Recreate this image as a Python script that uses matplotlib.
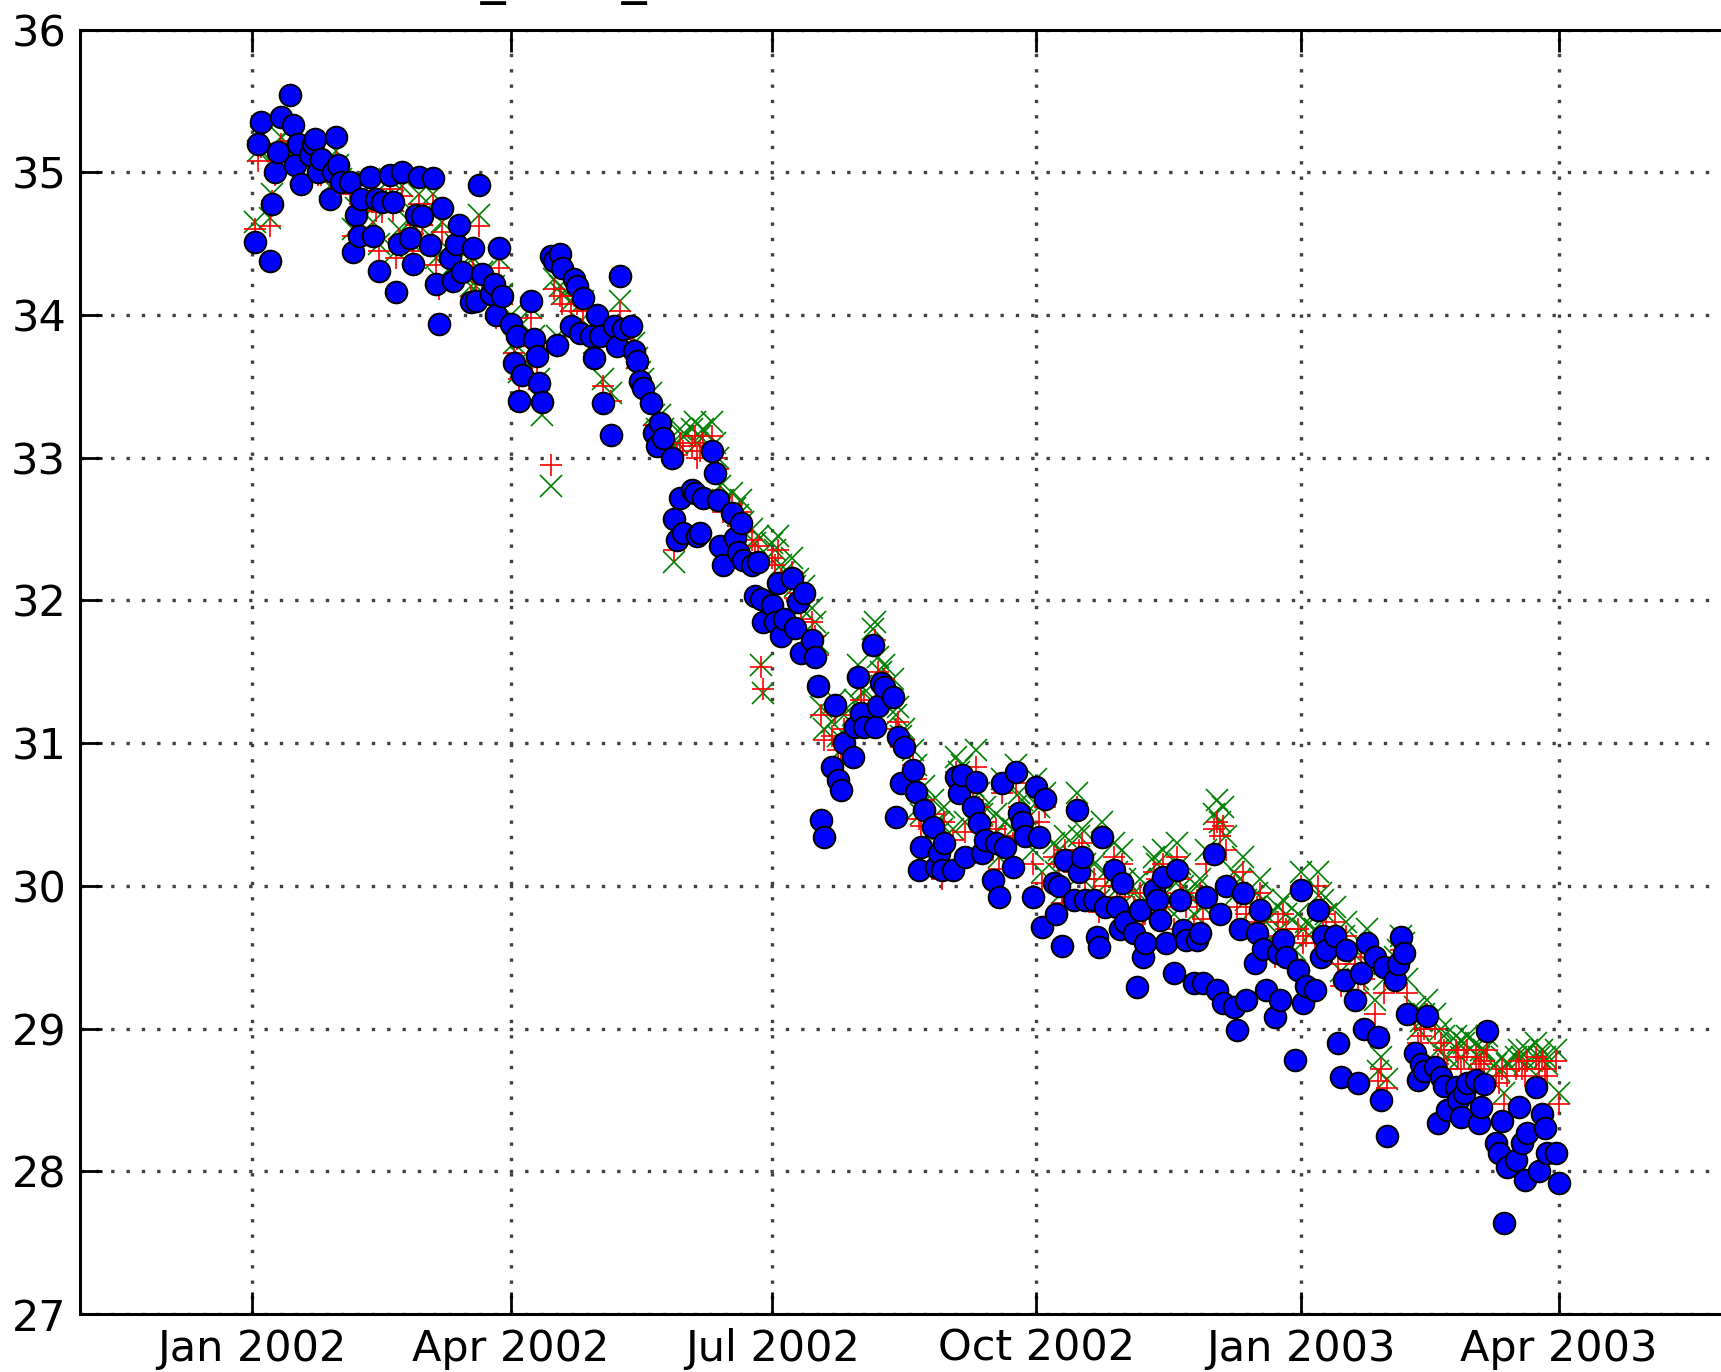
"""Daily observed series with two model estimates, Jan 2002 - Apr 2003."""

from __future__ import annotations

import matplotlib

matplotlib.use("Agg")
import matplotlib.dates as mdates
import matplotlib.pyplot as plt
import pandas as pd
from matplotlib.axes import Axes
from matplotlib.figure import Figure

DPI: int = 200
FIG_W_PX: int = 1721
FIG_H_PX: int = 1372
FONT_SIZE: float = 15.5

START_DATE: str = "2002-01-02"  # first business day, one row per week below
X_LIMITS: tuple[str, str] = ("2001-11-02", "2003-06-10")
Y_LIMITS: tuple[float, float] = (27.0, 36.0)
Y_TICKS: list[int] = list(range(27, 37))
TITLE_TEXT: str = "EWA_EWC_"

# Observed values (blue circles), business days, rows = calendar weeks.
OBSERVED: list[float] = [
    34.51, 35.20, 35.35,
    34.38, 34.78, 35.00, 35.14, 35.39,
    35.54, 35.33, 35.05, 35.20, 34.92,
    35.12, 35.20, 35.23, 35.00, 35.09,
    34.81, 35.00, 35.25, 35.05, 34.93,
    34.93, 34.44, 34.70, 34.55, 34.81,
    34.97, 34.55, 34.81, 34.31, 34.79,
    34.98, 34.79, 34.16, 34.50, 35.00,
    34.54, 34.36, 34.70, 34.97, 34.69,
    34.49, 34.96, 34.22, 33.94, 34.75,
    34.40, 34.24, 34.50, 34.63, 34.30,
    34.09, 34.47, 34.10, 34.91, 34.29,
    34.15, 34.22, 34.00, 34.47, 34.13,
    33.94, 33.66, 33.85, 33.40, 33.58,
    34.10, 33.83, 33.71, 33.52, 33.39,
    34.41, 34.38, 33.79, 34.43, 34.33,
    33.92, 34.25, 34.20, 33.87, 34.12,
    33.85, 33.70, 34.00, 33.85, 33.38,
    33.16, 33.92, 33.78, 34.27, 33.90,
    33.92, 33.75, 33.68, 33.54, 33.49,
    33.38, 33.17, 33.08, 33.24, 33.14,
    33.00, 32.57, 32.42, 32.72, 32.47,
    32.77, 32.75, 32.45, 32.47, 32.72,
    33.05, 32.89, 32.70, 32.38, 32.25,
    32.61, 32.44, 32.34, 32.54, 32.28,
    32.25, 32.03, 32.27, 32.01, 31.85,
    31.97, 31.85, 32.12, 31.75, 31.87,
    32.16, 31.81, 31.99, 31.63, 32.05,
    31.72, 31.60, 31.40, 30.46, 30.34,
    30.83, 31.27, 30.74, 30.67, 31.00,
    30.90, 31.11, 31.46, 31.21, 31.11,
    31.69, 31.11, 31.26, 31.42, 31.39,
    31.32, 30.48, 31.04, 30.72, 30.97,
    30.81, 30.66, 30.11, 30.27, 30.53,
    30.41, 30.13, 30.23, 30.11, 30.30,
    30.11, 30.76, 30.65, 30.78, 30.20,
    30.55, 30.73, 30.44, 30.23, 30.32,
    30.04, 30.30, 29.92, 30.72, 30.27,
    30.13, 30.80, 30.51, 30.45, 30.35,
    29.92, 30.69, 30.34, 29.71, 30.61,
    30.02, 29.80, 30.00, 29.58, 30.18,
    29.90, 30.53, 30.10, 30.20, 29.90,
    29.90, 29.64, 29.57, 30.34, 29.85,
    30.11, 29.85, 29.70, 30.02, 29.75,
    29.67, 29.29, 29.83, 29.50, 29.60,
    29.97, 29.90, 29.76, 30.06, 29.60,
    29.39, 30.11, 29.90, 29.69, 29.62,
    29.32, 29.62, 29.67, 29.32, 29.92,
    30.22, 29.27, 29.80, 29.18, 30.00,
    29.15, 28.99, 29.70, 29.95, 29.20,
    29.46, 29.67, 29.83, 29.56, 29.27,
    29.08, 29.53, 29.20, 29.62, 29.50,
    28.78, 29.41, 29.97, 29.18, 29.30,
    29.27, 29.83, 29.50, 29.65, 29.55,
    29.65, 28.90, 28.66, 29.34, 29.55,
    29.20, 28.62, 29.39, 29.00, 29.60,
    29.50, 28.94, 28.50, 29.43, 28.25,
    29.34, 29.45, 29.64, 29.53, 29.10,
    28.83, 28.64, 28.75, 28.70, 29.09,
    28.73, 28.34, 28.66, 28.60, 28.43,
    28.59, 28.50, 28.38, 28.55, 28.62,
    28.64, 28.34, 28.45, 28.61, 28.98,
    28.20, 28.13, 28.35, 27.64, 28.03,
    28.08, 28.45, 28.20, 27.94, 28.27,
    28.59, 28.00, 28.40, 28.30, 28.13,
    28.13, 27.92,
]

# First estimate (green crosses).
ESTIMATE_X: list[float] = [
    34.65, 35.15, 35.25,
    34.68, 34.85, 35.05, 35.15, 35.25,
    35.30, 35.25, 35.10, 35.15, 35.00,
    35.10, 35.15, 35.18, 35.05, 35.05,
    34.90, 35.00, 35.15, 35.05, 34.95,
    34.92, 34.60, 34.75, 34.65, 34.80,
    34.90, 34.65, 34.80, 34.50, 34.80,
    34.95, 34.80, 34.45, 34.60, 34.90,
    34.65, 34.50, 34.70, 34.85, 34.70,
    34.55, 34.85, 34.40, 34.25, 34.65,
    34.45, 34.35, 34.50, 34.55, 34.35,
    34.20, 34.40, 34.20, 34.70, 34.30,
    34.20, 34.20, 34.05, 34.40, 34.15,
    34.00, 33.80, 33.90, 33.60, 33.70,
    34.05, 33.85, 33.75, 33.55, 33.30,
    32.80, 34.25, 33.85, 34.20, 34.15,
    34.10, 34.20, 34.15, 33.95, 34.10,
    33.90, 33.80, 33.95, 33.85, 33.55,
    33.45, 33.90, 33.85, 34.10, 33.90,
    33.85, 33.80, 33.70, 33.60, 33.55,
    33.45, 33.30, 33.20, 33.30, 33.20,
    33.10, 32.27, 33.10, 33.20, 33.15,
    33.20, 33.25, 33.10, 33.15, 33.20,
    33.25, 33.10, 33.00, 32.80, 32.70,
    32.75, 32.65, 32.60, 32.70, 32.55,
    32.50, 32.40, 32.45, 31.55, 31.35,
    32.40, 32.35, 32.45, 32.25, 32.20,
    32.30, 32.10, 32.15, 31.95, 32.10,
    31.95, 31.85, 31.70, 31.25, 31.10,
    31.15, 31.30, 31.05, 30.95, 31.20,
    31.20, 31.30, 31.55, 31.40, 31.35,
    31.80, 31.85, 31.60, 31.50, 31.55,
    31.45, 31.20, 31.25, 31.05, 31.10,
    30.95, 30.85, 30.55, 30.50, 30.70,
    30.60, 30.45, 30.45, 30.40, 30.55,
    30.40, 30.90, 30.80, 30.85, 30.45,
    30.70, 30.95, 30.65, 30.50, 30.55,
    30.35, 30.50, 30.20, 30.75, 30.45,
    30.40, 30.85, 30.65, 30.60, 30.50,
    30.25, 30.75, 30.55, 30.10, 30.65,
    30.30, 30.10, 30.25, 29.95, 30.35,
    30.20, 30.65, 30.35, 30.40, 30.15,
    30.15, 29.95, 29.90, 30.45, 30.10,
    30.30, 30.10, 30.00, 30.25, 30.05,
    29.95, 29.70, 30.05, 29.85, 29.90,
    30.20, 30.15, 30.05, 30.25, 29.95,
    29.80, 30.30, 30.15, 30.00, 29.95,
    29.80, 30.00, 30.05, 29.85, 30.25,
    30.50, 30.60, 30.45, 30.55, 30.35,
    30.10, 29.95, 30.05, 30.20, 29.90,
    29.85, 29.95, 30.05, 29.90, 29.75,
    29.60, 29.85, 29.70, 29.90, 29.80,
    29.55, 29.80, 30.10, 29.70, 29.75,
    29.70, 30.10, 29.95, 29.90, 29.80,
    29.85, 29.55, 29.40, 29.65, 29.75,
    29.55, 29.35, 29.60, 29.45, 29.70,
    29.20, 28.70, 28.80, 29.35, 28.65,
    29.50, 29.55, 29.65, 29.60, 29.35,
    29.15, 29.00, 29.05, 29.10, 29.20,
    29.10, 28.85, 29.00, 28.95, 28.80,
    28.95, 28.90, 28.80, 28.90, 28.95,
    28.90, 28.80, 28.85, 28.85, 28.95,
    28.75, 28.70, 28.80, 28.55, 28.75,
    28.80, 28.85, 28.80, 28.75, 28.85,
    28.90, 28.80, 28.85, 28.80, 28.75,
    28.85, 28.55,
]

# Second estimate (red pluses).
ESTIMATE_PLUS: list[float] = [
    34.60, 35.08, 35.18,
    34.62, 34.80, 34.98, 35.08, 35.20,
    35.22, 35.18, 35.02, 35.08, 34.93,
    35.03, 35.08, 35.10, 34.98, 34.98,
    34.83, 34.93, 35.07, 34.98, 34.88,
    34.85, 34.55, 34.68, 34.58, 34.73,
    34.83, 34.58, 34.73, 34.45, 34.72,
    34.88, 34.73, 34.40, 34.53, 34.83,
    34.58, 34.45, 34.63, 34.78, 34.63,
    34.48, 34.78, 34.35, 34.18, 34.58,
    34.38, 34.28, 34.43, 34.48, 34.28,
    34.13, 34.33, 34.15, 34.62, 34.23,
    34.13, 34.13, 33.98, 34.33, 34.08,
    33.93, 33.73, 33.83, 33.55, 33.63,
    33.98, 33.78, 33.68, 33.48, 33.40,
    32.95, 34.18, 33.78, 34.13, 34.08,
    34.03, 34.13, 34.08, 33.88, 34.03,
    33.83, 33.73, 33.88, 33.78, 33.50,
    33.40, 33.83, 33.78, 34.03, 33.83,
    33.78, 33.73, 33.63, 33.53, 33.48,
    33.38, 33.23, 33.13, 33.23, 33.13,
    33.03, 32.35, 33.02, 33.10, 33.05,
    33.08, 33.15, 33.00, 33.05, 33.10,
    33.15, 33.00, 32.92, 32.72, 32.62,
    32.67, 32.58, 32.52, 32.62, 32.48,
    32.42, 32.33, 32.38, 31.53, 31.38,
    32.30, 32.25, 32.35, 32.15, 32.12,
    32.20, 32.02, 32.05, 31.87, 32.00,
    31.85, 31.75, 31.62, 31.20, 31.02,
    31.05, 31.22, 30.95, 30.88, 31.10,
    31.10, 31.20, 31.45, 31.30, 31.27,
    31.68, 31.72, 31.50, 31.40, 31.45,
    31.35, 31.10, 31.15, 30.97, 31.02,
    30.85, 30.75, 30.47, 30.42, 30.60,
    30.50, 30.35, 30.37, 30.05, 30.45,
    30.32, 30.80, 30.70, 30.75, 30.38,
    30.60, 30.83, 30.55, 30.42, 30.45,
    30.25, 30.40, 30.12, 30.65, 30.35,
    30.30, 30.72, 30.55, 30.50, 30.40,
    30.15, 30.65, 30.45, 30.02, 30.55,
    30.20, 30.02, 30.15, 29.88, 30.25,
    30.10, 30.55, 30.25, 30.30, 30.05,
    30.05, 29.87, 29.82, 30.35, 30.00,
    30.20, 30.00, 29.92, 30.15, 29.97,
    29.85, 29.62, 29.95, 29.77, 29.80,
    30.10, 30.05, 29.95, 30.15, 29.85,
    29.70, 30.20, 30.05, 29.92, 29.85,
    29.72, 29.90, 29.95, 29.77, 30.15,
    30.40, 30.45, 30.35, 30.42, 30.25,
    30.00, 29.85, 29.95, 30.10, 29.80,
    29.75, 29.85, 29.95, 29.80, 29.65,
    29.50, 29.75, 29.60, 29.80, 29.70,
    29.45, 29.70, 30.00, 29.60, 29.65,
    29.60, 30.00, 29.85, 29.80, 29.70,
    29.75, 29.45, 29.30, 29.55, 29.65,
    29.45, 29.25, 29.50, 29.35, 29.60,
    29.10, 28.63, 28.72, 29.25, 28.58,
    29.40, 29.45, 29.55, 29.50, 29.25,
    29.05, 28.90, 28.95, 29.00, 29.10,
    29.00, 28.75, 28.90, 28.85, 28.72,
    28.85, 28.80, 28.72, 28.80, 28.85,
    28.80, 28.72, 28.75, 28.77, 28.85,
    28.67, 28.62, 28.72, 28.47, 28.67,
    28.72, 28.77, 28.72, 28.67, 28.77,
    28.80, 28.72, 28.77, 28.72, 28.67,
    28.77, 28.47,
]


def px_to_fig(*, left: float, bottom: float, width: float, height: float) -> list[float]:
    return [left / FIG_W_PX, bottom / FIG_H_PX, width / FIG_W_PX, height / FIG_H_PX]


def main() -> None:
    assert len(OBSERVED) == len(ESTIMATE_X) == len(ESTIMATE_PLUS)
    dates = pd.bdate_range(START_DATE, periods=len(OBSERVED))

    plt.rcParams["font.family"] = "DejaVu Sans"
    plt.rcParams["font.size"] = FONT_SIZE

    fig: Figure = plt.figure(figsize=(FIG_W_PX / DPI, FIG_H_PX / DPI), dpi=DPI)
    # axes run past the right edge of the canvas
    ax: Axes = fig.add_axes(px_to_fig(left=80, bottom=58, width=1680, height=1284.5))

    ax.plot(dates, ESTIMATE_X, linestyle="none", marker="x", color="#008000",
            markersize=8.0, markeredgewidth=0.6)
    ax.plot(dates, ESTIMATE_PLUS, linestyle="none", marker="+", color="#ff0000",
            markersize=8.0, markeredgewidth=0.6)
    ax.plot(dates, OBSERVED, linestyle="none", marker="o", markerfacecolor="#0000ff",
            markeredgecolor="black", markeredgewidth=0.7, markersize=7.8)

    ax.set_xlim(pd.Timestamp(X_LIMITS[0]), pd.Timestamp(X_LIMITS[1]))
    ax.set_ylim(*Y_LIMITS)
    ax.set_yticks(Y_TICKS)
    ax.xaxis.set_major_locator(mdates.MonthLocator(bymonth=[1, 4, 7, 10]))
    ax.xaxis.set_major_formatter(mdates.DateFormatter("%b %Y"))

    ax.grid(True, color="0.25", linestyle=(0, (1, 3.6)), linewidth=1.2)
    ax.tick_params(direction="in", length=8, width=1.0, top=True, right=True,
                   labelsize=FONT_SIZE, pad=5)
    for spine in ax.spines.values():
        spine.set_linewidth(1.1)

    # title sits mostly above the canvas; only the underscores show
    fig.text(368 / FIG_W_PX, (FIG_H_PX + 7) / FIG_H_PX, TITLE_TEXT, fontsize=18,
             ha="left", va="baseline")

    fig.savefig("out.png", dpi=DPI)
    plt.close(fig=fig)


if __name__ == "__main__":
    main()
